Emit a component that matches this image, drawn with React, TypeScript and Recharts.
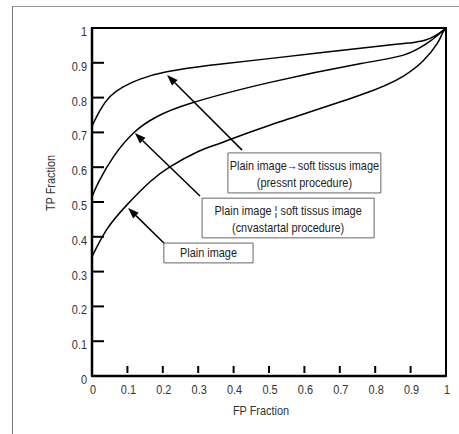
import React from "react"
import { LineChart, Line, XAxis, YAxis, ReferenceArea, ReferenceLine } from "recharts"

const fpTicks = [0, 0.1, 0.2, 0.3, 0.4, 0.5, 0.6, 0.7, 0.8, 0.9, 1]
const tpTicks = [0, 0.1, 0.2, 0.3, 0.4, 0.5, 0.6, 0.7, 0.8, 0.9, 1]

// plain image -> soft tissue image (present procedure)
const presentFp = [0, 0.023, 0.051, 0.088, 0.136, 0.211, 0.333, 0.5, 0.84, 0.9, 0.94, 0.97, 0.99, 1]
const presentTp = [0.718, 0.764, 0.803, 0.831, 0.853, 0.874, 0.893, 0.912, 0.951, 0.957, 0.965, 0.978, 0.992, 1]

// plain image + soft tissue image (conventional procedure)
const convFp = [0, 0.02, 0.062, 0.121, 0.183, 0.277, 0.5, 0.76, 0.88, 0.945, 0.98, 1]
const convTp = [0.515, 0.56, 0.632, 0.702, 0.745, 0.783, 0.843, 0.898, 0.922, 0.955, 0.982, 1]

// plain image only
const plainFp = [0, 0.041, 0.098, 0.164, 0.22, 0.3, 0.362, 0.5, 0.76, 0.88, 0.935, 0.975, 0.99, 1]
const plainTp = [0.343, 0.42, 0.491, 0.558, 0.601, 0.645, 0.669, 0.72, 0.808, 0.862, 0.905, 0.955, 0.985, 1]

const noteLines = [
  ["Plain image\u2192soft tissus image", "(pressnt procedure)"],
  ["Plain image \u00a6 soft tissus image", "(cnvastartal procedure)"],
  ["Plain image"],
]
const noteBoxes = [
  { x1: 0.384, x2: 0.816, y1: 0.526, y2: 0.641 },
  { x1: 0.311, x2: 0.797, y1: 0.397, y2: 0.511 },
  { x1: 0.203, x2: 0.455, y1: 0.325, y2: 0.382 },
]
const arrows = [
  [{ x: 0.424, y: 0.649 }, { x: 0.212, y: 0.865 }],
  [{ x: 0.305, y: 0.517 }, { x: 0.121, y: 0.698 }],
  [{ x: 0.203, y: 0.382 }, { x: 0.102, y: 0.483 }],
]

const toPoints = (xs: number[], ys: number[]) => xs.map((fp, i) => ({ fp, tp: ys[i] }))

const font = '"Liberation Sans", Arial, sans-serif'
const fmt = (v: number) => (v === 0 || v === 1 ? String(v) : v.toFixed(1))

// condensed-looking text: regular sans squeezed horizontally
const NT = ({ x, y, anchor = "middle", size = 13, rotate = 0, fill = "#333", children }: any) => (
  <text
    transform={`translate(${x} ${y})${rotate ? ` rotate(${rotate})` : ""} scale(0.84 1)`}
    textAnchor={anchor}
    fontSize={size}
    fill={fill}
    fontFamily={font}
  >
    {children}
  </text>
)

const XTick = (props: any) => {
  const { x, y, payload } = props
  return (
    <g>
      {payload.value > 0 && payload.value < 1 && (
        <line x1={x} x2={x} y1={y - 10} y2={y - 3} stroke="#000" strokeWidth={2} />
      )}
      <NT x={x + 1} y={y + 18}>{fmt(payload.value)}</NT>
    </g>
  )
}

const YTick = (props: any) => {
  const { x, y, payload } = props
  return (
    <g>
      {payload.value > 0 && payload.value < 1 && (
        <line x1={x} x2={x + 12} y1={y} y2={y} stroke="#000" strokeWidth={2} />
      )}
      <NT x={x - 5} y={y + 8} anchor="end">{fmt(payload.value)}</NT>
    </g>
  )
}

const Arrow = (props: any) => {
  const { x1, y1, x2, y2 } = props
  const a = Math.atan2(y2 - y1, x2 - x1)
  const len = 11
  const w = 4
  const bx = x2 - len * Math.cos(a)
  const by = y2 - len * Math.sin(a)
  const px = -Math.sin(a) * w
  const py = Math.cos(a) * w
  return (
    <g>
      <line x1={x1} y1={y1} x2={bx} y2={by} stroke="#000" strokeWidth={1.5} />
      <polygon points={`${x2},${y2} ${bx + px},${by + py} ${bx - px},${by - py}`} fill="#000" />
    </g>
  )
}

const boxLabel = (lines: string[]) => (props: any) => {
  const { x, y, width } = props.viewBox
  return (
    <g>
      {lines.map((t, i) => (
        <NT key={i} x={x + width / 2} y={y + (lines.length > 1 ? 17 + i * 17 : 14)} fill="#222">
          {t}
        </NT>
      ))}
    </g>
  )
}

export default function App() {
  return (
    <div style={{ position: "absolute", left: 0, top: 0, width: 459, height: 434, background: "#fff", overflow: "hidden" }}>
      <div
        style={{
          position: "absolute",
          left: 12,
          top: 6,
          width: 460,
          height: 440,
          borderLeft: "1.5px solid #777",
          borderTop: "1.5px solid #999",
        }}
      />
      <LineChart width={459} height={434} margin={{ top: 28, right: 13, bottom: 18, left: 52 }} style={{ position: "absolute", left: 0, top: 0 }}>
        <XAxis
          type="number"
          dataKey="fp"
          domain={[0, 1]}
          ticks={fpTicks}
          interval={0}
          height={40}
          tickSize={0}
          tickMargin={0}
          tickLine={false}
          axisLine={{ stroke: "#000", strokeWidth: 2.5 }}
          tick={<XTick />}
          label={(p: any) => (
            <NT x={p.viewBox.x + p.viewBox.width / 2 - 8} y={p.viewBox.y + 39}>FP Fraction</NT>
          )}
        />
        <YAxis
          type="number"
          dataKey="tp"
          domain={[0, 1]}
          ticks={tpTicks}
          interval={0}
          width={40}
          tickSize={0}
          tickMargin={0}
          tickLine={false}
          axisLine={{ stroke: "#000", strokeWidth: 2.5 }}
          tick={<YTick />}
          label={(p: any) => (
            <NT x={p.viewBox.x + 3} y={p.viewBox.y + p.viewBox.height / 2 - 19} rotate={-90}>TP Fraction</NT>
          )}
        />
        <ReferenceArea x1={0} x2={1} y1={0} y2={1} fill="none" stroke="#000" strokeWidth={2} />
        {noteBoxes.map((b, i) => (
          <ReferenceArea key={i} x1={b.x1} x2={b.x2} y1={b.y1} y2={b.y2} fill="#fff" fillOpacity={1} stroke="#666" strokeWidth={1} label={boxLabel(noteLines[i])} />
        ))}
        {arrows.map((seg, i) => (
          <ReferenceLine key={i} segment={seg} shape={<Arrow />} />
        ))}
        <Line data={toPoints(presentFp, presentTp)} dataKey="tp" type="natural" stroke="#000" strokeWidth={1.5} dot={false} isAnimationActive={false} />
        <Line data={toPoints(convFp, convTp)} dataKey="tp" type="natural" stroke="#000" strokeWidth={1.5} dot={false} isAnimationActive={false} />
        <Line data={toPoints(plainFp, plainTp)} dataKey="tp" type="natural" stroke="#000" strokeWidth={1.5} dot={false} isAnimationActive={false} />
      </LineChart>
    </div>
  )
}
